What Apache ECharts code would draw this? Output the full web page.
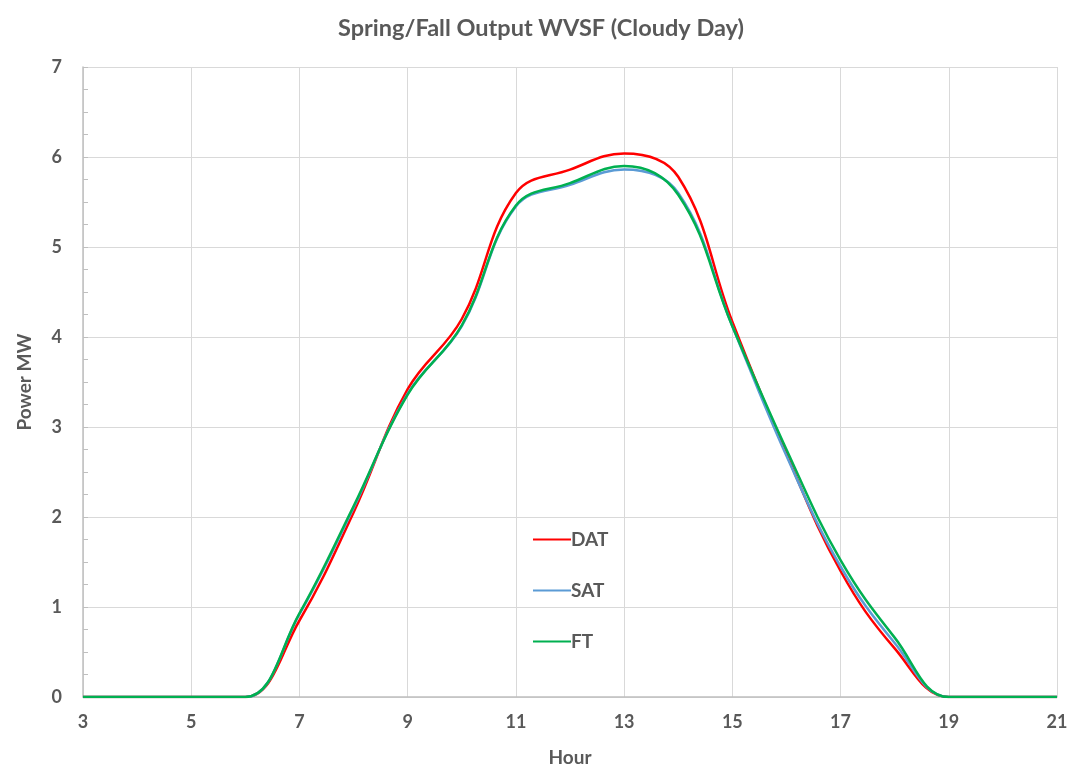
<!DOCTYPE html>
<html>
<head>
<meta charset="utf-8">
<script src="https://cdn.jsdelivr.net/npm/echarts@6/dist/echarts.min.js"></script>
<style>html,body{margin:0;padding:0;background:#fff;}#c{width:1082px;height:767px;}</style>
</head>
<body>
<div id="c"></div>
<script>
const hours = ['3','4','5','6','7','8','9','10','11','12','13','14','15','16','17','18','19','20','21'];
const DAT = [0,0,0,0,0.85,2.05,3.42,4.2,5.6,5.86,6.04,5.78,4.17,2.7,1.4,0.54,0,0,0];
const SAT = [0,0,0,0,0.92,2.1,3.37,4.12,5.45,5.69,5.86,5.6,4.12,2.68,1.45,0.6,0,0,0];
const FT  = [0,0,0,0,0.93,2.12,3.36,4.13,5.46,5.71,5.9,5.58,4.12,2.75,1.52,0.66,0,0,0];
const yTicks = [0,1,2,3,4,5,6,7];

const FONT = 'Lato, "Open Sans", sans-serif';
const TXT = '#595959';
const chart = echarts.init(document.getElementById('c'));
function mk(name, data, color) {
  return {name, type:'line', data, smooth:0.4, symbol:'none', showSymbol:false,
    lineStyle:{color, width:2.5}, itemStyle:{color}};
}
chart.setOption({
  animation:false,
  backgroundColor:'#fff',
  title:{text:'Spring/Fall Output WVSF (Cloudy Day)', left:'center', top:11,
    textStyle:{fontFamily:FONT, fontSize:23.5, fontWeight:'bold', color:TXT}},
  grid:{left:83, right:25, top:67, bottom:70, containLabel:false, outerBoundsMode:'none'},
  legend:{orient:'vertical', left:527, top:525, itemWidth:38, itemHeight:22, itemGap:32,
    data:['DAT','SAT','FT'],
    itemStyle:{opacity:0},
    textStyle:{fontFamily:FONT, fontSize:19, fontWeight:'bold', color:TXT, padding:[0,0,0,-5]}},
  xAxis:{type:'category', data:hours, boundaryGap:false,
    name:'Hour', nameLocation:'middle', nameGap:51,
    nameTextStyle:{fontFamily:FONT, fontSize:19, fontWeight:'bold', color:TXT},
    axisLine:{lineStyle:{color:'#bfbfbf', width:1.5}},
    axisTick:{show:false},
    axisLabel:{interval:1, margin:16, fontFamily:FONT, fontSize:18, fontWeight:'bold', color:TXT},
    splitLine:{show:true, interval:1, lineStyle:{color:'#d9d9d9', width:1}}},
  yAxis:{type:'value', min:yTicks[0], max:yTicks[yTicks.length-1], interval:1,
    name:'Power MW', nameLocation:'middle', nameGap:49, nameRotate:90,
    nameTextStyle:{fontFamily:FONT, fontSize:19, fontWeight:'bold', color:TXT},
    axisLine:{show:true, lineStyle:{color:'#bfbfbf', width:1.5}},
    axisTick:{show:true, inside:true, length:5, lineStyle:{color:'#bfbfbf'}},
    minorTick:{show:true, splitNumber:4, length:5, lineStyle:{color:'#bfbfbf'}},
    axisLabel:{margin:21, fontFamily:FONT, fontSize:18, fontWeight:'bold', color:TXT},
    splitLine:{lineStyle:{color:'#d9d9d9', width:1}}},
  series:[mk('DAT', DAT, '#ff0000'), mk('SAT', SAT, '#5b9bd5'), mk('FT', FT, '#00b050')]
});
</script>
</body>
</html>
